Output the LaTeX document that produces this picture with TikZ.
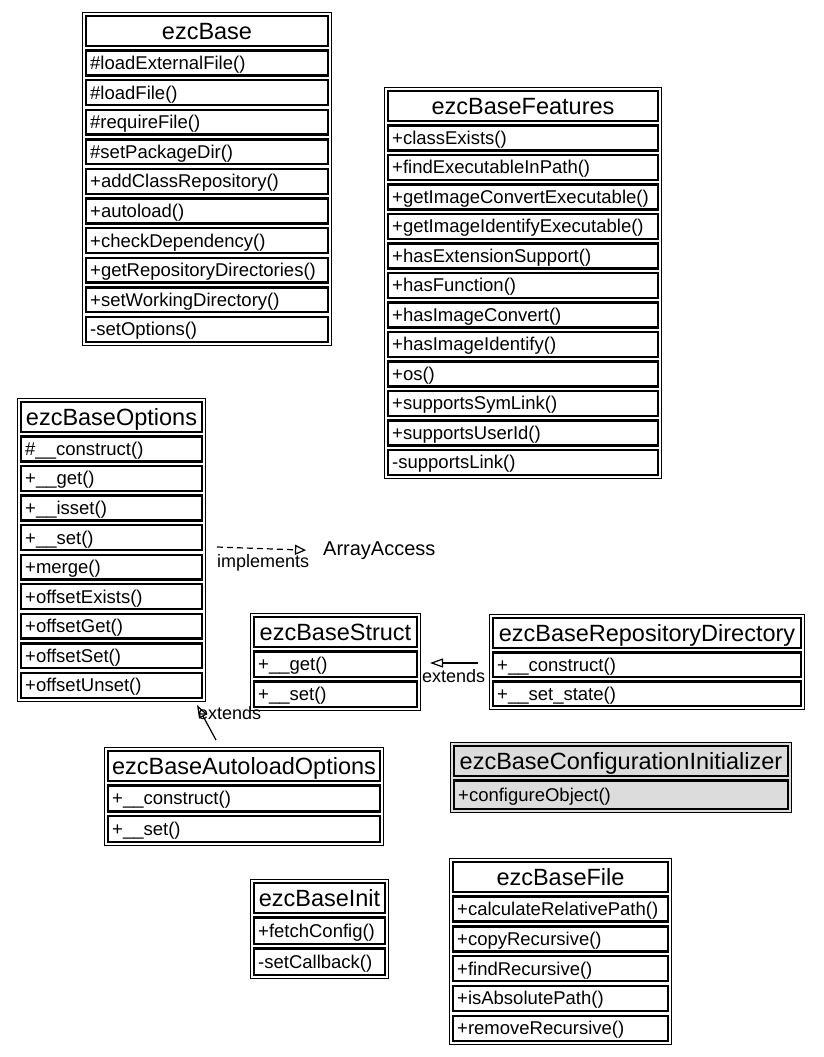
\documentclass[tikz,border=0pt]{standalone}
\usepackage{fontspec}
\setmainfont{Liberation Sans}
\usetikzlibrary{arrows.meta}
\definecolor{boxgray}{RGB}{220,220,220}
\tikzset{
  classframe/.style={draw, line width=1.2pt, inner sep=0pt},
  classcell/.style={draw, line width=2.4pt},
  classtitle/.style={anchor=base, inner sep=0pt, font=\fontsize{23.5}{26}\selectfont},
  classrow/.style={anchor=base west, inner sep=0pt, font=\fontsize{18.5}{20}\selectfont},
  edgelabel/.style={anchor=base west, inner sep=0pt, font=\fontsize{18}{20}\selectfont},
  extarrow/.style={line width=1.2pt, -{Triangle[open, length=13pt, width=9pt]}},
  implarrow/.style={line width=1.2pt, dash pattern=on 6pt off 4pt,
    -{Triangle[open, length=11pt, width=10pt]}},
}
% \umlclass[fill]{name}{x0}{y0}{x1}{y1}{title}{operations}
\newcommand\umlclass[8][white]{%
  \pgfmathsetmacro\cw{#5-#3}%
  \pgfmathsetmacro\ch{#6-#4}%
  \node[classframe, fill=#1, minimum width={\cw pt-1.2pt}, minimum height={\ch pt-1.2pt}]
    (#2) at ({(#3+#5)/2},{(#4+#6)/2}) {};
  \draw[classcell, fill=#1] (#3+4.2,#4+4.2) rectangle (#5-4.2,#4+33.8);
  \node[classtitle] (#2-title) at ({(#3+#5)/2},#4+19+8.5) {#7};
  \foreach \r [count=\i] in {#8} {\xdef\nrows{\i}}%
  \pgfmathsetmacro\rstart{#4+37.3}%
  \pgfmathsetmacro\rend{#6-3}%
  \pgfmathsetmacro\rh{(\rend-\rstart+2.3)/\nrows}%
  \foreach \r [count=\i] in {#8} {
    \pgfmathsetmacro\ta{\rstart+(\i-1)*\rh}
    \pgfmathsetmacro\tb{\ta+\rh-2.3}
    \draw[classcell, fill=#1] (#3+4.2,\ta+1.2) rectangle (#5-4.2,\tb-1.2);
    \node[classrow] (#2-r\i) at (#3+8,{(\ta+\tb)/2+6.5}) {\r};
  }%
}
\begin{document}
\begin{tikzpicture}[x=1pt,y=-1pt]
\useasboundingbox (0,0) rectangle (824,1057);

\umlclass{base}{82}{12}{332}{346}{ezcBase}{\#loadExternalFile(), \#loadFile(),
  \#requireFile(), \#setPackageDir(), +addClassRepository(), +autoload(),
  +checkDependency(), +getRepositoryDirectories(), +setWorkingDirectory(), -setOptions()}

\umlclass{feat}{384}{87}{662}{479}{ezcBaseFeatures}{+classExists(), +findExecutableInPath(),
  +getImageConvertExecutable(), +getImageIdentifyExecutable(), +hasExtensionSupport(),
  +hasFunction(), +hasImageConvert(), +hasImageIdentify(), +os(), +supportsSymLink(),
  +supportsUserId(), -supportsLink()}

\umlclass{opt}{17}{398}{206}{702}{ezcBaseOptions}{\#\_\_construct(), +\_\_get(),
  +\_\_isset(), +\_\_set(), +merge(), +offsetExists(), +offsetGet(), +offsetSet(),
  +offsetUnset()}

\umlclass{st}{250}{613}{421}{711}{ezcBaseStruct}{+\_\_get(), +\_\_set()}

\umlclass{rd}{489}{614}{805}{710}{ezcBaseRepositoryDirectory}{+\_\_construct(),
  +\_\_set\_state()}

\umlclass{ao}{104}{747}{384}{846}{ezcBaseAutoloadOptions}{+\_\_construct(), +\_\_set()}

\umlclass[boxgray]{ci}{450}{742}{792}{813}{ezcBaseConfigurationInitializer}{+configureObject()}

\umlclass{ini}{250}{879}{389}{979}{ezcBaseInit}{+fetchConfig(), -setCallback()}

\umlclass{fil}{449}{858}{672}{1045}{ezcBaseFile}{+calculateRelativePath(), +copyRecursive(),
  +findRecursive(), +isAbsolutePath(), +removeRecursive()}

% interface realisation
\node[anchor=base west, inner sep=0pt, font=\fontsize{20}{22}\selectfont] (aa) at (323,555) {ArrayAccess};
\draw[implarrow] ([shift={(11,149)}]opt.north east) -- ([xshift=-17pt]aa.west);
\node[edgelabel] (impl) at (217,567) {implements};

% inheritance
\draw[extarrow] ([shift={(-11,49)}]rd.north west) -- ([shift={(9,50)}]st.north east);
\node[edgelabel] (ext1) at (422,682) {extends};
\draw[extarrow] ([shift={(112,-7)}]ao.north west) -- ([shift={(180,3)}]opt.south west);
\node[edgelabel] (ext2) at (198,719) {extends};
\end{tikzpicture}
\end{document}
